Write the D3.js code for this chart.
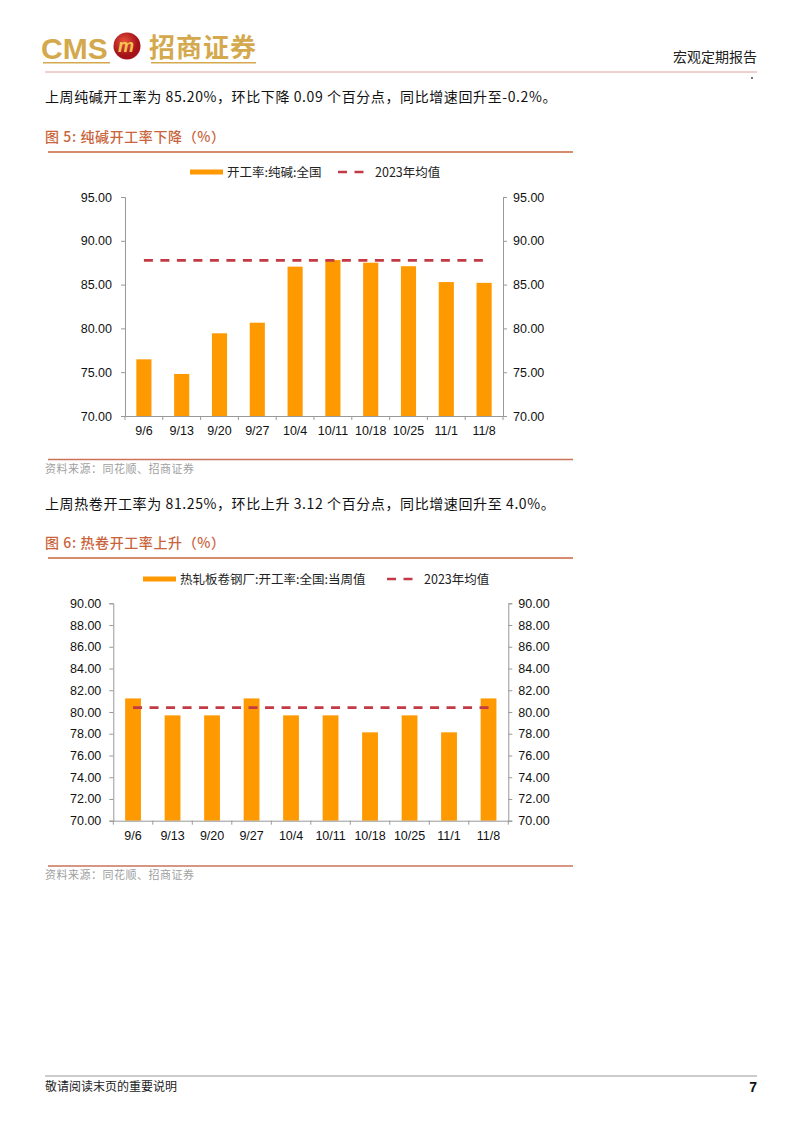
<!DOCTYPE html>
<html><head><meta charset="utf-8">
<script src="https://cdn.jsdelivr.net/npm/d3@7/dist/d3.min.js"></script>
<style>
body{margin:0;background:#fff;}
svg text{font-family:"Liberation Sans","Noto Sans CJK SC",sans-serif;}
.cjk{font-family:"Noto Sans CJK SC","Liberation Sans",sans-serif;}
</style></head>
<body><svg id="page" width="802" height="1133"></svg>
<script>
// ---- data ----
const categories = ["9/6","9/13","9/20","9/27","10/4","10/11","10/18","10/25","11/1","11/8"];
const sodaAshRate = [76.47, 74.80, 79.44, 80.65, 87.05, 87.80, 87.50, 87.10, 85.29, 85.20];
const sodaAshMean2023 = 87.77;
const sodaTicks = [70,75,80,85,90,95];
const hotCoilRate = [81.25, 79.69, 79.69, 81.25, 79.69, 79.69, 78.13, 79.69, 78.13, 81.25];
const hotCoilMean2023 = 80.40;
const hotTicks = [70,72,74,76,78,80,82,84,86,88,90];

const svg = d3.select("#page");
const ORANGE = "#FF9900", RED = "#C23A44", TITLE = "#C9653D", GOLD = "#D4A94E";

// ---- header ----
svg.append("text").attr("x",41).attr("y",59).attr("font-size",30).attr("font-weight","bold")
  .attr("fill",GOLD).text("CMS");
svg.append("rect").attr("x",43).attr("y",62).attr("width",67).attr("height",1.5).attr("fill",GOLD);
const lg = svg.append("g").attr("transform","translate(127,46)");
const grad = svg.append("defs").append("radialGradient").attr("id","rg").attr("cx","40%").attr("cy","35%");
grad.append("stop").attr("offset","0%").attr("stop-color","#E8533A");
grad.append("stop").attr("offset","100%").attr("stop-color","#A5121A");
lg.append("circle").attr("r",13.5).attr("fill","url(#rg)");
lg.append("text").attr("x",-1).attr("y",6).attr("text-anchor","middle").attr("font-size",18)
  .attr("font-weight","bold").attr("font-style","italic").attr("fill","#F3C650").text("m");
svg.append("text").attr("class","cjk").attr("x",149).attr("y",57).attr("font-size",26).attr("font-weight","bold")
  .attr("fill",GOLD).attr("letter-spacing",1).text("招商证券");
svg.append("rect").attr("x",151).attr("y",62).attr("width",105).attr("height",1.5).attr("fill",GOLD);
svg.append("line").attr("x1",45).attr("x2",757).attr("y1",72).attr("y2",72).attr("stroke","#E0A098").attr("stroke-width",1);
svg.append("text").attr("class","cjk").attr("x",757).attr("y",62).attr("text-anchor","end").attr("font-size",14)
  .attr("fill","#222").text("宏观定期报告");
svg.append("circle").attr("cx",752).attr("cy",78).attr("r",0.9).attr("fill","#333");

// ---- footer ----
svg.append("line").attr("x1",45).attr("x2",757).attr("y1",1076).attr("y2",1076).attr("stroke","#999").attr("stroke-width",1);
svg.append("text").attr("class","cjk").attr("x",45).attr("y",1091).attr("font-size",12).attr("fill","#222").text("敬请阅读末页的重要说明");
svg.append("text").attr("x",757).attr("y",1092).attr("text-anchor","end").attr("font-size",14).attr("font-weight","bold").attr("fill","#111").text("7");

function section(o){
  svg.append("text").attr("class","cjk").attr("x",45).attr("y",o.paraY).attr("font-size",14).attr("letter-spacing",0.6)
    .attr("fill","#111").text(o.para);
  svg.append("text").attr("class","cjk").attr("x",45).attr("y",o.titleY).attr("font-size",14).attr("font-weight",500)
    .attr("letter-spacing",0.6).attr("fill",TITLE).text(o.title);
  svg.append("line").attr("x1",48).attr("x2",573).attr("y1",o.titleY+10).attr("y2",o.titleY+10).attr("stroke",TITLE).attr("stroke-width",1.3);
  svg.append("line").attr("x1",48).attr("x2",573).attr("y1",o.srcLineY).attr("y2",o.srcLineY).attr("stroke","#C9735A").attr("stroke-width",1.3);
  svg.append("text").attr("class","cjk").attr("x",45).attr("y",o.srcLineY+13).attr("font-size",11).attr("letter-spacing",0.5)
    .attr("fill","#A0A0A0").text("资料来源：同花顺、招商证券");

  const x = d3.scaleBand().domain(categories).range([o.x0,o.x1]).padding(0);
  const y = d3.scaleLinear().domain([o.ticks[0],o.ticks[o.ticks.length-1]]).range([o.y0,o.y1]);
  const g = svg.append("g");
  const bw = x.bandwidth()*0.4;
  g.selectAll("rect.bar").data(o.values).enter().append("rect").attr("class","bar")
    .attr("x",(d,i)=>x(categories[i])+(x.bandwidth()-bw)/2).attr("width",bw)
    .attr("y",d=>y(d)).attr("height",d=>y(o.ticks[0])-y(d)).attr("fill",ORANGE);
  g.append("line").attr("x1",x(categories[0])+x.bandwidth()/2).attr("x2",x(categories[categories.length-1])+x.bandwidth()/2)
    .attr("y1",y(o.mean)).attr("y2",y(o.mean)).attr("stroke",RED).attr("stroke-width",2.6).attr("stroke-dasharray","9,7.5");
  const fmt = d3.format(".2f");
  const la = g.append("g").attr("transform",`translate(${o.x0},0)`).call(d3.axisLeft(y).tickValues(o.ticks).tickFormat(fmt).tickSize(4).tickPadding(o.lpad));
  const ra = g.append("g").attr("transform",`translate(${o.x1},0)`).call(d3.axisRight(y).tickValues(o.ticks).tickFormat(fmt).tickSize(4).tickPadding(o.rpad));
  const xa = g.append("g").attr("transform",`translate(0,${o.y0})`).call(d3.axisBottom(x).tickSize(0).tickPadding(10));
  [la,ra,xa].forEach(a=>{
    a.select(".domain").attr("stroke","#999");
    a.selectAll(".tick line").attr("stroke","#999");
    a.selectAll("text").attr("font-size",12.5).attr("fill","#111").attr("font-family","Liberation Sans, Arial, sans-serif");
  });
  xa.selectAll("line.bt").data(d3.range(categories.length+1)).enter().append("line").attr("class","bt")
    .attr("x1",i=>o.x0+i*x.step()).attr("x2",i=>o.x0+i*x.step()).attr("y1",0).attr("y2",4).attr("stroke","#999");

  const L = svg.append("g");
  L.append("rect").attr("x",o.leg.r).attr("y",o.leg.y-2.5).attr("width",33).attr("height",5).attr("fill",ORANGE);
  L.append("text").attr("class","cjk").attr("x",o.leg.r+37).attr("y",o.leg.y+4.5).attr("font-size",12.5).attr("fill","#222").text(o.legName);
  L.append("line").attr("x1",o.leg.d).attr("x2",o.leg.d+33).attr("y1",o.leg.y).attr("y2",o.leg.y).attr("stroke",RED).attr("stroke-width",2.6).attr("stroke-dasharray","9,7.5");
  L.append("text").attr("class","cjk").attr("x",o.leg.d+37).attr("y",o.leg.y+4.5).attr("font-size",12.5).attr("fill","#222").text("2023年均值");
}

section({
  para:"上周纯碱开工率为 85.20%，环比下降 0.09 个百分点，同比增速回升至-0.2%。", paraY:102,
  title:"图 5:  纯碱开工率下降（%）", titleY:142, srcLineY:459.5,
  values:sodaAshRate, mean:sodaAshMean2023, ticks:sodaTicks,
  x0:125, x1:503, y0:416, y1:197, lpad:9, rpad:6,
  leg:{r:190, d:338, y:172}, legName:"开工率:纯碱:全国"
});
section({
  para:"上周热卷开工率为 81.25%，环比上升 3.12 个百分点，同比增速回升至 4.0%。", paraY:509,
  title:"图 6:  热卷开工率上升（%）", titleY:548, srcLineY:866,
  values:hotCoilRate, mean:hotCoilMean2023, ticks:hotTicks,
  x0:113.3, x1:508.3, y0:820.7, y1:603.3, lpad:8, rpad:6,
  leg:{r:143, d:387, y:579}, legName:"热轧板卷钢厂:开工率:全国:当周值"
});
</script></body></html>
